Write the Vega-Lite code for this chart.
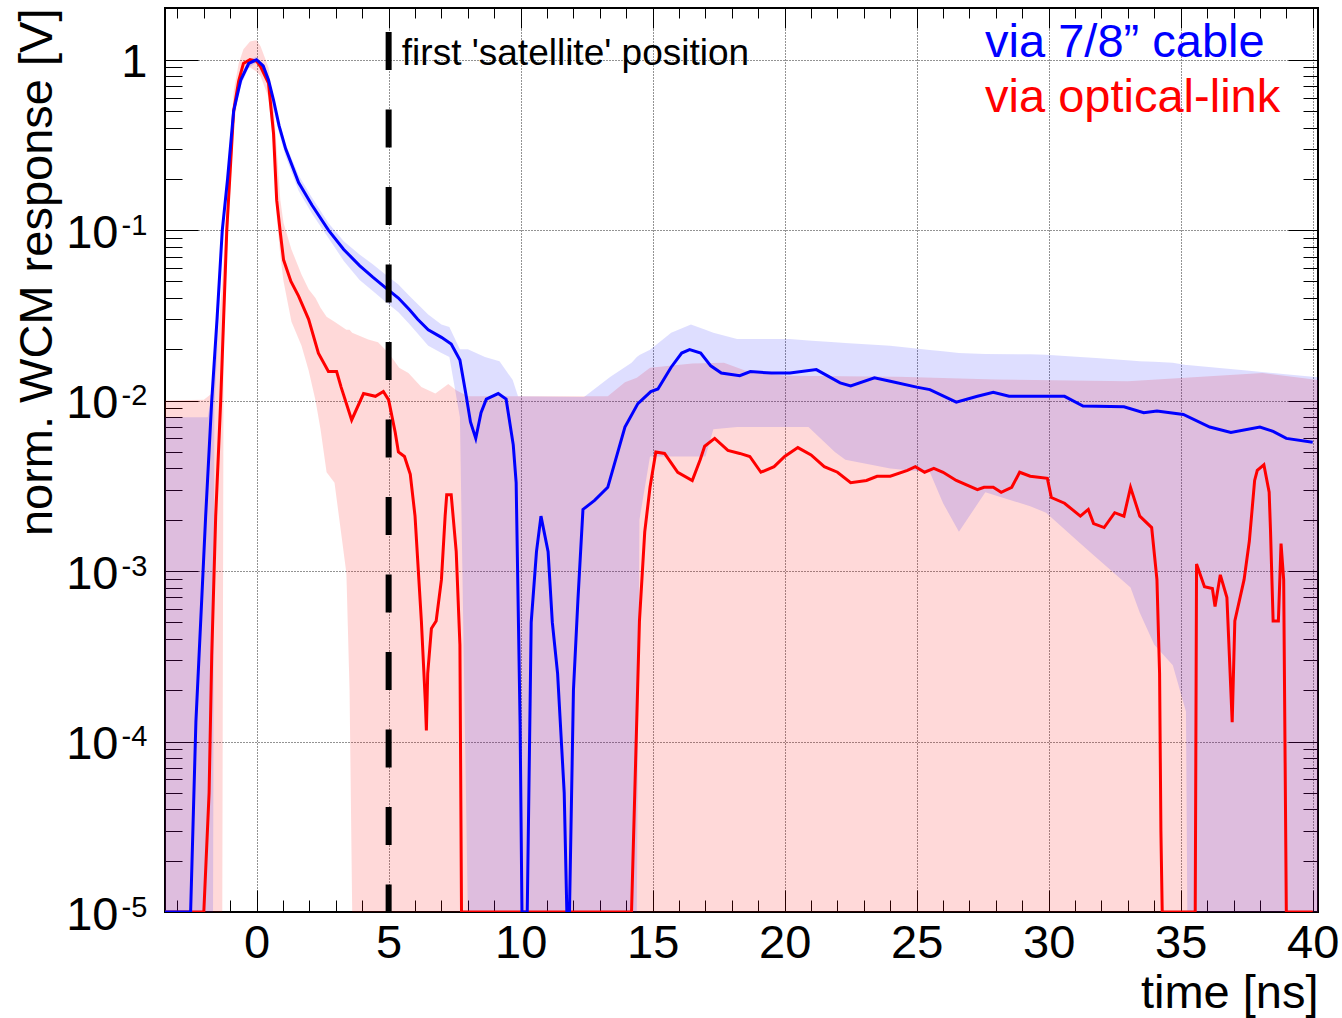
{
  "$schema": "https://vega.github.io/schema/vega-lite/v6.json",
  "width": 1153,
  "height": 904,
  "autosize": {"type": "none"},
  "padding": {"left": 165, "top": 8, "right": 24, "bottom": 106},
  "background": "white",
  "config": {
    "font": "Liberation Sans",
    "view": {"stroke": "#000000", "strokeWidth": 2},
    "axis": {"labelColor": "#000000", "titleColor": "#000000", "titleFontWeight": "normal", "labelFont": "Liberation Sans", "titleFont": "Liberation Sans"}
  },
  "datasets": {
    "cable": [
      {"t": -3.5, "v": 1e-5}, {"t": -2.5, "v": 1e-5}, {"t": -2.3, "v": 1.3e-4}, {"t": -2.12, "v": 5e-4}, {"t": -1.93, "v": 2.1e-3}, {"t": -1.7, "v": 0.01}, {"t": -1.5, "v": 0.03}, {"t": -1.3, "v": 0.1}, {"t": -1.1, "v": 0.2}, {"t": -0.87, "v": 0.5}, {"t": -0.6, "v": 0.76}, {"t": -0.3, "v": 0.95}, {"t": 0.0, "v": 1.0}, {"t": 0.25, "v": 0.92}, {"t": 0.45, "v": 0.76}, {"t": 0.64, "v": 0.58}, {"t": 0.85, "v": 0.41}, {"t": 1.1, "v": 0.3}, {"t": 1.59, "v": 0.19}, {"t": 2.1, "v": 0.14}, {"t": 2.72, "v": 0.1}, {"t": 3.3, "v": 0.077}, {"t": 3.9, "v": 0.062}, {"t": 4.4, "v": 0.053}, {"t": 4.88, "v": 0.046}, {"t": 5.37, "v": 0.04}, {"t": 5.8, "v": 0.034}, {"t": 6.1, "v": 0.03}, {"t": 6.5, "v": 0.026}, {"t": 7.0, "v": 0.0235}, {"t": 7.37, "v": 0.0215}, {"t": 7.7, "v": 0.0173}, {"t": 7.94, "v": 0.0106}, {"t": 8.1, "v": 0.0075}, {"t": 8.3, "v": 0.006}, {"t": 8.5, "v": 0.0085}, {"t": 8.7, "v": 0.0102}, {"t": 9.15, "v": 0.011}, {"t": 9.45, "v": 0.0102}, {"t": 9.72, "v": 0.0055}, {"t": 9.83, "v": 0.0033}, {"t": 9.98, "v": 1.25e-4}, {"t": 10.05, "v": 1e-5}, {"t": 10.25, "v": 1e-5}, {"t": 10.4, "v": 5e-4}, {"t": 10.6, "v": 1.3e-3}, {"t": 10.77, "v": 2.1e-3}, {"t": 11.04, "v": 1.3e-3}, {"t": 11.2, "v": 5e-4}, {"t": 11.4, "v": 2.5e-4}, {"t": 11.65, "v": 5e-5}, {"t": 11.75, "v": 1e-5}, {"t": 11.85, "v": 1e-5}, {"t": 12.0, "v": 2e-4}, {"t": 12.17, "v": 6.8e-4}, {"t": 12.36, "v": 2.3e-3}, {"t": 12.8, "v": 2.6e-3}, {"t": 13.3, "v": 3.1e-3}, {"t": 13.95, "v": 7e-3}, {"t": 14.44, "v": 9.6e-3}, {"t": 14.93, "v": 0.0113}, {"t": 15.2, "v": 0.0117}, {"t": 15.7, "v": 0.0157}, {"t": 16.1, "v": 0.019}, {"t": 16.4, "v": 0.0199}, {"t": 16.82, "v": 0.019}, {"t": 17.2, "v": 0.016}, {"t": 17.6, "v": 0.0145}, {"t": 18.3, "v": 0.014}, {"t": 18.7, "v": 0.0148}, {"t": 19.5, "v": 0.0145}, {"t": 20.2, "v": 0.0145}, {"t": 21.2, "v": 0.0152}, {"t": 22.1, "v": 0.0127}, {"t": 22.5, "v": 0.0122}, {"t": 23.4, "v": 0.0136}, {"t": 24.0, "v": 0.013}, {"t": 25.0, "v": 0.012}, {"t": 25.5, "v": 0.0116}, {"t": 26.5, "v": 0.0098}, {"t": 27.3, "v": 0.0106}, {"t": 27.9, "v": 0.0112}, {"t": 28.5, "v": 0.0106}, {"t": 30.6, "v": 0.0106}, {"t": 31.3, "v": 0.0093}, {"t": 32.85, "v": 0.0092}, {"t": 33.6, "v": 0.0085}, {"t": 34.1, "v": 0.0087}, {"t": 35.1, "v": 0.0083}, {"t": 36.1, "v": 0.007}, {"t": 36.9, "v": 0.0065}, {"t": 38.0, "v": 0.007}, {"t": 38.5, "v": 0.0066}, {"t": 39.0, "v": 0.006}, {"t": 40.0, "v": 0.0057}
    ],
    "optical": [
      {"t": -3.5, "v": 1e-5}, {"t": -2.0, "v": 1e-5}, {"t": -1.8, "v": 5e-5}, {"t": -1.7, "v": 3.2e-4}, {"t": -1.55, "v": 2.1e-3}, {"t": -1.36, "v": 0.01}, {"t": -1.13, "v": 0.1}, {"t": -0.87, "v": 0.5}, {"t": -0.68, "v": 0.75}, {"t": -0.5, "v": 0.95}, {"t": -0.25, "v": 1.0}, {"t": 0.0, "v": 0.98}, {"t": 0.15, "v": 0.91}, {"t": 0.45, "v": 0.73}, {"t": 0.64, "v": 0.37}, {"t": 0.76, "v": 0.15}, {"t": 0.9, "v": 0.096}, {"t": 1.02, "v": 0.067}, {"t": 1.3, "v": 0.05}, {"t": 1.59, "v": 0.041}, {"t": 1.97, "v": 0.03}, {"t": 2.34, "v": 0.019}, {"t": 2.72, "v": 0.0148}, {"t": 3.03, "v": 0.0148}, {"t": 3.2, "v": 0.012}, {"t": 3.6, "v": 0.0077}, {"t": 4.05, "v": 0.011}, {"t": 4.5, "v": 0.0106}, {"t": 4.8, "v": 0.0113}, {"t": 5.0, "v": 0.0101}, {"t": 5.25, "v": 0.0065}, {"t": 5.37, "v": 0.005}, {"t": 5.6, "v": 0.0047}, {"t": 5.82, "v": 0.0037}, {"t": 6.0, "v": 0.0021}, {"t": 6.24, "v": 5.1e-4}, {"t": 6.39, "v": 1.7e-4}, {"t": 6.43, "v": 1.16e-4}, {"t": 6.48, "v": 2.5e-4}, {"t": 6.62, "v": 4.6e-4}, {"t": 6.8, "v": 5.1e-4}, {"t": 7.0, "v": 8.9e-4}, {"t": 7.14, "v": 2.1e-3}, {"t": 7.2, "v": 2.8e-3}, {"t": 7.37, "v": 2.8e-3}, {"t": 7.56, "v": 1.3e-3}, {"t": 7.7, "v": 3.7e-4}, {"t": 7.76, "v": 1e-5}, {"t": 14.2, "v": 1e-5}, {"t": 14.5, "v": 5.1e-4}, {"t": 14.7, "v": 1.7e-3}, {"t": 14.9, "v": 3.1e-3}, {"t": 15.12, "v": 5e-3}, {"t": 15.45, "v": 4.9e-3}, {"t": 15.95, "v": 3.8e-3}, {"t": 16.5, "v": 3.4e-3}, {"t": 16.8, "v": 4.5e-3}, {"t": 16.97, "v": 5.4e-3}, {"t": 17.35, "v": 6e-3}, {"t": 17.85, "v": 5.1e-3}, {"t": 18.3, "v": 4.9e-3}, {"t": 18.68, "v": 4.7e-3}, {"t": 19.1, "v": 3.8e-3}, {"t": 19.6, "v": 4.1e-3}, {"t": 20.0, "v": 4.7e-3}, {"t": 20.5, "v": 5.3e-3}, {"t": 21.0, "v": 4.8e-3}, {"t": 21.5, "v": 4.1e-3}, {"t": 22.0, "v": 3.8e-3}, {"t": 22.5, "v": 3.3e-3}, {"t": 23.1, "v": 3.4e-3}, {"t": 23.5, "v": 3.6e-3}, {"t": 24.0, "v": 3.6e-3}, {"t": 24.65, "v": 3.9e-3}, {"t": 24.95, "v": 4.1e-3}, {"t": 25.3, "v": 3.8e-3}, {"t": 25.65, "v": 4e-3}, {"t": 26.0, "v": 3.8e-3}, {"t": 26.5, "v": 3.4e-3}, {"t": 27.3, "v": 3e-3}, {"t": 27.55, "v": 3.1e-3}, {"t": 27.9, "v": 3.1e-3}, {"t": 28.2, "v": 2.9e-3}, {"t": 28.6, "v": 3.1e-3}, {"t": 28.9, "v": 3.8e-3}, {"t": 29.3, "v": 3.6e-3}, {"t": 29.95, "v": 3.5e-3}, {"t": 30.1, "v": 2.7e-3}, {"t": 30.6, "v": 2.5e-3}, {"t": 31.2, "v": 2.1e-3}, {"t": 31.5, "v": 2.3e-3}, {"t": 31.7, "v": 1.9e-3}, {"t": 32.1, "v": 1.8e-3}, {"t": 32.5, "v": 2.2e-3}, {"t": 32.85, "v": 2.1e-3}, {"t": 33.1, "v": 3.1e-3}, {"t": 33.45, "v": 2.1e-3}, {"t": 33.9, "v": 1.8e-3}, {"t": 34.1, "v": 8.9e-4}, {"t": 34.2, "v": 2.5e-4}, {"t": 34.25, "v": 3e-5}, {"t": 34.3, "v": 1e-5}, {"t": 35.55, "v": 1e-5}, {"t": 35.6, "v": 1.1e-3}, {"t": 35.9, "v": 8.1e-4}, {"t": 36.2, "v": 7.9e-4}, {"t": 36.3, "v": 6.2e-4}, {"t": 36.5, "v": 9.5e-4}, {"t": 36.75, "v": 7e-4}, {"t": 36.95, "v": 1.3e-4}, {"t": 37.05, "v": 5.1e-4}, {"t": 37.4, "v": 8.9e-4}, {"t": 37.6, "v": 1.5e-3}, {"t": 37.8, "v": 3.4e-3}, {"t": 37.9, "v": 3.9e-3}, {"t": 38.15, "v": 4.2e-3}, {"t": 38.35, "v": 2.9e-3}, {"t": 38.4, "v": 1.75e-3}, {"t": 38.5, "v": 5.1e-4}, {"t": 38.7, "v": 5.1e-4}, {"t": 38.8, "v": 1.45e-3}, {"t": 38.9, "v": 8.9e-4}, {"t": 39.0, "v": 1e-5}, {"t": 40.0, "v": 1e-5}
    ],
    "cableBand": [
      {"t": -3.5, "lo": 1e-5, "hi": 0.008}, {"t": -1.85, "lo": 1e-5, "hi": 0.008}, {"t": -1.65, "lo": 1e-5, "hi": 0.012}, {"t": -1.6, "lo": 0.009, "hi": 0.014}, {"t": -1.45, "lo": 0.026, "hi": 0.036}, {"t": -1.3, "lo": 0.09, "hi": 0.11}, {"t": -1.1, "lo": 0.18, "hi": 0.22}, {"t": -0.87, "lo": 0.46, "hi": 0.54}, {"t": -0.6, "lo": 0.7, "hi": 0.8}, {"t": -0.3, "lo": 0.9, "hi": 1.0}, {"t": 0.0, "lo": 0.96, "hi": 1.04}, {"t": 0.45, "lo": 0.7, "hi": 0.8}, {"t": 0.85, "lo": 0.37, "hi": 0.44}, {"t": 1.1, "lo": 0.27, "hi": 0.32}, {"t": 1.59, "lo": 0.17, "hi": 0.21}, {"t": 2.1, "lo": 0.125, "hi": 0.155}, {"t": 2.72, "lo": 0.09, "hi": 0.11}, {"t": 3.3, "lo": 0.066, "hi": 0.086}, {"t": 3.9, "lo": 0.051, "hi": 0.072}, {"t": 4.4, "lo": 0.044, "hi": 0.063}, {"t": 4.88, "lo": 0.038, "hi": 0.055}, {"t": 5.37, "lo": 0.033, "hi": 0.048}, {"t": 5.8, "lo": 0.028, "hi": 0.041}, {"t": 6.5, "lo": 0.021, "hi": 0.032}, {"t": 7.0, "lo": 0.019, "hi": 0.028}, {"t": 7.3, "lo": 0.018, "hi": 0.027}, {"t": 7.7, "lo": 0.008, "hi": 0.02}, {"t": 8.0, "lo": 1e-5, "hi": 0.02}, {"t": 8.65, "lo": 1e-5, "hi": 0.018}, {"t": 9.2, "lo": 1e-5, "hi": 0.017}, {"t": 9.7, "lo": 1e-5, "hi": 0.0132}, {"t": 9.9, "lo": 1e-5, "hi": 0.0106}, {"t": 12.4, "lo": 1e-5, "hi": 0.0105}, {"t": 13.4, "lo": 1e-5, "hi": 0.0138}, {"t": 14.2, "lo": 1e-5, "hi": 0.0167}, {"t": 14.4, "lo": 1e-5, "hi": 0.018}, {"t": 14.5, "lo": 2e-3, "hi": 0.0185}, {"t": 14.9, "lo": 4.7e-3, "hi": 0.0199}, {"t": 15.7, "lo": 4.7e-3, "hi": 0.025}, {"t": 16.45, "lo": 4.7e-3, "hi": 0.028}, {"t": 17.0, "lo": 4.7e-3, "hi": 0.026}, {"t": 17.3, "lo": 6.8e-3, "hi": 0.025}, {"t": 18.2, "lo": 7e-3, "hi": 0.023}, {"t": 20.2, "lo": 7e-3, "hi": 0.023}, {"t": 20.9, "lo": 7e-3, "hi": 0.0225}, {"t": 21.9, "lo": 5e-3, "hi": 0.022}, {"t": 22.3, "lo": 4.5e-3, "hi": 0.0218}, {"t": 24.0, "lo": 4e-3, "hi": 0.021}, {"t": 25.5, "lo": 3.8e-3, "hi": 0.0198}, {"t": 26.0, "lo": 2.5e-3, "hi": 0.0195}, {"t": 26.6, "lo": 1.7e-3, "hi": 0.019}, {"t": 27.6, "lo": 2.9e-3, "hi": 0.0188}, {"t": 29.3, "lo": 2.4e-3, "hi": 0.0187}, {"t": 29.9, "lo": 2.2e-3, "hi": 0.0186}, {"t": 31.2, "lo": 1.45e-3, "hi": 0.018}, {"t": 31.8, "lo": 1.2e-3, "hi": 0.0178}, {"t": 33.1, "lo": 8e-4, "hi": 0.0172}, {"t": 33.45, "lo": 5.7e-4, "hi": 0.017}, {"t": 34.0, "lo": 3.7e-4, "hi": 0.0169}, {"t": 34.7, "lo": 2.8e-4, "hi": 0.0167}, {"t": 35.2, "lo": 1.5e-4, "hi": 0.0162}, {"t": 35.25, "lo": 1e-5, "hi": 0.0162}, {"t": 37.5, "lo": 1e-5, "hi": 0.015}, {"t": 40.2, "lo": 1e-5, "hi": 0.0137}
    ],
    "opticalBand": [
      {"t": -3.5, "lo": 1e-5, "hi": 0.01}, {"t": -2.0, "lo": 1e-5, "hi": 0.0101}, {"t": -1.7, "lo": 1e-5, "hi": 0.011}, {"t": -1.5, "lo": 1e-5, "hi": 0.02}, {"t": -1.3, "lo": 1e-5, "hi": 0.05}, {"t": -1.25, "lo": 0.02, "hi": 0.07}, {"t": -1.13, "lo": 0.07, "hi": 0.14}, {"t": -0.87, "lo": 0.4, "hi": 0.65}, {"t": -0.68, "lo": 0.65, "hi": 0.95}, {"t": -0.5, "lo": 0.85, "hi": 1.15}, {"t": -0.25, "lo": 0.9, "hi": 1.28}, {"t": 0.0, "lo": 0.85, "hi": 1.3}, {"t": 0.15, "lo": 0.8, "hi": 1.2}, {"t": 0.45, "lo": 0.6, "hi": 0.9}, {"t": 0.64, "lo": 0.3, "hi": 0.55}, {"t": 0.76, "lo": 0.12, "hi": 0.3}, {"t": 0.9, "lo": 0.07, "hi": 0.15}, {"t": 1.02, "lo": 0.05, "hi": 0.11}, {"t": 1.32, "lo": 0.029, "hi": 0.077}, {"t": 1.7, "lo": 0.021, "hi": 0.055}, {"t": 1.97, "lo": 0.015, "hi": 0.045}, {"t": 2.23, "lo": 0.01, "hi": 0.04}, {"t": 2.42, "lo": 0.0068, "hi": 0.035}, {"t": 2.65, "lo": 0.0038, "hi": 0.031}, {"t": 2.95, "lo": 0.0033, "hi": 0.029}, {"t": 3.4, "lo": 9.7e-4, "hi": 0.026}, {"t": 3.52, "lo": 2e-4, "hi": 0.026}, {"t": 3.62, "lo": 1e-5, "hi": 0.025}, {"t": 4.23, "lo": 1e-5, "hi": 0.0228}, {"t": 4.6, "lo": 1e-5, "hi": 0.022}, {"t": 5.0, "lo": 1e-5, "hi": 0.019}, {"t": 5.4, "lo": 1e-5, "hi": 0.0156}, {"t": 5.75, "lo": 1e-5, "hi": 0.0145}, {"t": 6.24, "lo": 1e-5, "hi": 0.012}, {"t": 6.77, "lo": 1e-5, "hi": 0.011}, {"t": 7.26, "lo": 1e-5, "hi": 0.0125}, {"t": 7.56, "lo": 1e-5, "hi": 0.0115}, {"t": 8.0, "lo": 1e-5, "hi": 0.0106}, {"t": 13.3, "lo": 1e-5, "hi": 0.0106}, {"t": 13.95, "lo": 1e-5, "hi": 0.0128}, {"t": 14.4, "lo": 1e-5, "hi": 0.0136}, {"t": 14.9, "lo": 1e-5, "hi": 0.0156}, {"t": 16.5, "lo": 1e-5, "hi": 0.0165}, {"t": 17.7, "lo": 1e-5, "hi": 0.0167}, {"t": 18.5, "lo": 1e-5, "hi": 0.015}, {"t": 20.0, "lo": 1e-5, "hi": 0.014}, {"t": 24.3, "lo": 1e-5, "hi": 0.0138}, {"t": 28.0, "lo": 1e-5, "hi": 0.0133}, {"t": 33.0, "lo": 1e-5, "hi": 0.013}, {"t": 38.1, "lo": 1e-5, "hi": 0.0145}, {"t": 40.2, "lo": 1e-5, "hi": 0.0132}
    ],
    "single": [{}]
  },
  "resolve": {"axis": {"x": "independent", "y": "independent"}},
  "layer": [
    {
      "data": {"name": "opticalBand"},
      "mark": {"type": "area", "color": "#ff0000", "fillOpacity": 0.15, "clip": true},
      "encoding": {
        "x": {"field": "t", "type": "quantitative",
          "scale": {"domain": [-3.47, 40.2], "nice": false, "zero": false},
          "axis": {"orient": "bottom", "values": [0, 5, 10, 15, 20, 25, 30, 35, 40], "ticks": false, "tickSize": 0, "domain": false, "grid": false,
            "labelFontSize": 47, "labelPadding": 8, "labelBaseline": "top", "labelFlush": false, "labelOverlap": false, "labelBound": false,
            "title": "time [ns]", "titleFontSize": 47, "titleAnchor": "end", "titleAlign": "right", "titleBaseline": "alphabetic", "titleX": 1153, "titleY": 95}},
        "y": {"field": "lo", "type": "quantitative",
          "scale": {"type": "log", "domain": [1e-5, 2.01], "nice": false},
          "axis": {"orient": "left", "values": [1e-5, 1e-4, 1e-3, 0.01, 0.1, 1], "labelExpr": "datum.value > 0.5 ? '1' : '10'",
            "ticks": false, "tickSize": 0, "domain": false, "grid": false,
            "labelFontSize": 47, "labelAlign": "right", "labelBaseline": "middle",
            "labelPadding": {"condition": {"test": "datum.value > 0.5", "value": 18}, "value": 47},
            "labelOffset": 3, "labelFlush": false, "labelOverlap": false, "labelBound": false,
            "title": "norm. WCM response [V]", "titleFontSize": 47, "titleAngle": 270, "titleAlign": "right", "titleBaseline": "alphabetic", "titleX": -114, "titleY": 0}},
        "y2": {"field": "hi"}
      }
    },
    {
      "data": {"name": "cableBand"},
      "mark": {"type": "area", "color": "#0000ff", "fillOpacity": 0.13, "clip": true},
      "encoding": {
        "x": {"field": "t", "type": "quantitative",
          "scale": {"domain": [-3.47, 40.2], "nice": false, "zero": false},
          "axis": {"orient": "bottom", "values": [-3, -2, -1, 0, 1, 2, 3, 4, 5, 6, 7, 8, 9, 10, 11, 12, 13, 14, 15, 16, 17, 18, 19, 20, 21, 22, 23, 24, 25, 26, 27, 28, 29, 30, 31, 32, 33, 34, 35, 36, 37, 38, 39, 40],
            "labels": false, "domain": false, "ticks": true, "tickColor": "#000000", "tickWidth": 1,
            "tickSize": {"condition": {"test": "datum.value % 5 === 0", "value": -22}, "value": -12},
            "grid": true, "gridColor": "#000000", "gridDash": [1, 2], "gridWidth": 1,
            "gridOpacity": {"condition": {"test": "datum.value % 5 === 0", "value": 0.85}, "value": 0},
            "title": null}},
        "y": {"field": "lo", "type": "quantitative",
          "scale": {"type": "log", "domain": [1e-5, 2.01], "nice": false},
          "axis": {"orient": "left", "values": [1e-5, 2e-5, 3e-5, 4e-5, 5e-5, 6e-5, 7e-5, 8e-5, 9e-5, 1e-4, 2e-4, 3e-4, 4e-4, 5e-4, 6e-4, 7e-4, 8e-4, 9e-4, 1e-3, 2e-3, 3e-3, 4e-3, 5e-3, 6e-3, 7e-3, 8e-3, 9e-3, 0.01, 0.02, 0.03, 0.04, 0.05, 0.06, 0.07, 0.08, 0.09, 0.1, 0.2, 0.3, 0.4, 0.5, 0.6, 0.7, 0.8, 0.9, 1],
            "labels": false, "domain": false, "ticks": true, "tickColor": "#000000", "tickWidth": 1,
            "tickSize": {"condition": {"test": "abs(log(datum.value)/LN10 - round(log(datum.value)/LN10)) < 0.001", "value": -33}, "value": -17},
            "grid": true, "gridColor": "#000000", "gridDash": [1, 2], "gridWidth": 1,
            "gridOpacity": {"condition": {"test": "abs(log(datum.value)/LN10 - round(log(datum.value)/LN10)) < 0.001", "value": 0.85}, "value": 0},
            "title": null}},
        "y2": {"field": "hi"}
      }
    },
    {
      "data": {"name": "optical"},
      "mark": {"type": "line", "color": "#ff0000", "strokeWidth": 3, "clip": true},
      "encoding": {
        "x": {"field": "t", "type": "quantitative",
          "scale": {"domain": [-3.47, 40.2], "nice": false, "zero": false},
          "axis": {"orient": "top", "values": [-3, -2, -1, 0, 1, 2, 3, 4, 5, 6, 7, 8, 9, 10, 11, 12, 13, 14, 15, 16, 17, 18, 19, 20, 21, 22, 23, 24, 25, 26, 27, 28, 29, 30, 31, 32, 33, 34, 35, 36, 37, 38, 39, 40],
            "labels": false, "domain": false, "grid": false, "ticks": true, "tickColor": "#000000", "tickWidth": 1,
            "tickSize": {"condition": {"test": "datum.value % 5 === 0", "value": -20}, "value": -10},
            "title": null}},
        "y": {"field": "v", "type": "quantitative",
          "scale": {"type": "log", "domain": [1e-5, 2.01], "nice": false},
          "axis": {"orient": "right", "values": [1e-5, 2e-5, 3e-5, 4e-5, 5e-5, 6e-5, 7e-5, 8e-5, 9e-5, 1e-4, 2e-4, 3e-4, 4e-4, 5e-4, 6e-4, 7e-4, 8e-4, 9e-4, 1e-3, 2e-3, 3e-3, 4e-3, 5e-3, 6e-3, 7e-3, 8e-3, 9e-3, 0.01, 0.02, 0.03, 0.04, 0.05, 0.06, 0.07, 0.08, 0.09, 0.1, 0.2, 0.3, 0.4, 0.5, 0.6, 0.7, 0.8, 0.9, 1],
            "labels": false, "domain": false, "grid": false, "ticks": true, "tickColor": "#000000", "tickWidth": 1,
            "tickSize": {"condition": {"test": "abs(log(datum.value)/LN10 - round(log(datum.value)/LN10)) < 0.001", "value": -30}, "value": -15},
            "title": null}}
      }
    },
    {
      "data": {"name": "cable"},
      "mark": {"type": "line", "color": "#0000ff", "strokeWidth": 3, "clip": true},
      "encoding": {
        "x": {"field": "t", "type": "quantitative", "scale": {"domain": [-3.47, 40.2], "nice": false, "zero": false}, "axis": null},
        "y": {"field": "v", "type": "quantitative",
          "scale": {"type": "log", "domain": [1e-5, 2.01], "nice": false},
          "axis": {"orient": "left", "values": [1e-5, 1e-4, 1e-3, 0.01, 0.1], "labelExpr": "'-' + round(-log(datum.value)/LN10)",
            "ticks": false, "tickSize": 0, "domain": false, "grid": false,
            "labelFontSize": 29, "labelAlign": "left", "labelBaseline": "middle", "labelPadding": 44, "labelOffset": -5,
            "labelFlush": false, "labelOverlap": false, "labelBound": false, "title": null}}
      }
    },
    {
      "data": {"name": "single"},
      "mark": {"type": "rule", "color": "#000000", "strokeWidth": 6, "strokeDash": [38, 39.5], "strokeDashOffset": 53.5},
      "encoding": {
        "x": {"datum": 5, "type": "quantitative", "axis": null},
        "y": {"datum": 2.01, "type": "quantitative", "axis": null},
        "y2": {"datum": 1e-5}
      }
    },
    {
      "data": {"name": "single"},
      "mark": {"type": "text", "align": "left", "baseline": "alphabetic", "fontSize": 37, "color": "#000000"},
      "encoding": {
        "x": {"datum": 5.5, "type": "quantitative", "axis": null},
        "y": {"datum": 0.931, "type": "quantitative", "axis": null},
        "text": {"value": "first 'satellite' position"}
      }
    },
    {
      "data": {"name": "single"},
      "mark": {"type": "text", "align": "left", "baseline": "alphabetic", "fontSize": 47, "color": "#0000ff"},
      "encoding": {
        "x": {"datum": 27.59, "type": "quantitative", "axis": null},
        "y": {"datum": 1.037, "type": "quantitative", "axis": null},
        "text": {"value": "via 7/8” cable"}
      }
    },
    {
      "data": {"name": "single"},
      "mark": {"type": "text", "align": "left", "baseline": "alphabetic", "fontSize": 47, "color": "#ff0000"},
      "encoding": {
        "x": {"datum": 27.59, "type": "quantitative", "axis": null},
        "y": {"datum": 0.4936, "type": "quantitative", "axis": null},
        "text": {"value": "via optical-link"}
      }
    }
  ]
}
